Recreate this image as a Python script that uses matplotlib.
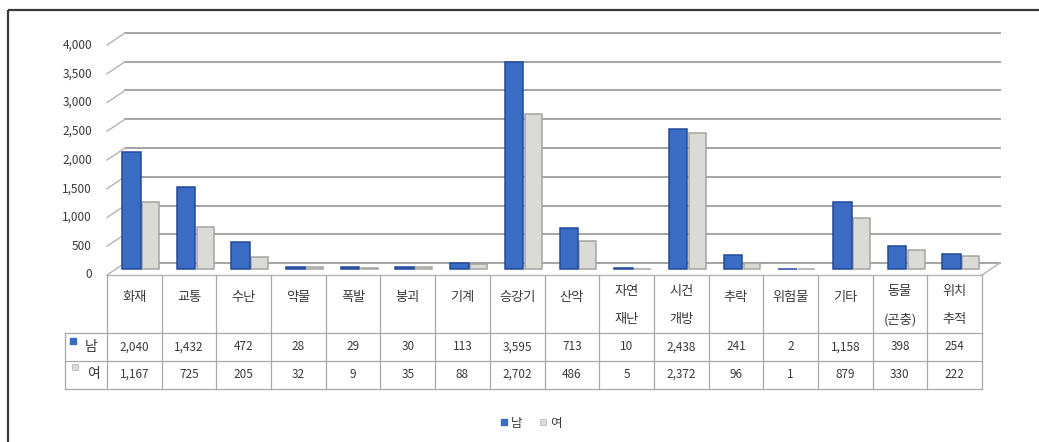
import matplotlib
matplotlib.use('Agg')
import matplotlib.pyplot as plt
import matplotlib.transforms as mtransforms
import numpy as np

plt.rcParams['font.family'] = ['Noto Sans CJK KR', 'DejaVu Sans']

# ---------------- data ----------------
categories = ['화재', '교통', '수난', '약물', '폭발', '붕괴', '기계', '승강기', '산악',
              '자연\n재난', '시건\n개방', '추락', '위험물', '기타', '동물\n(곤충)', '위치\n추적']
male = [2040, 1432, 472, 28, 29, 30, 113, 3595, 713, 10, 2438, 241, 2, 1158, 398, 254]
female = [1167, 725, 205, 32, 9, 35, 88, 2702, 486, 5, 2372, 96, 1, 879, 330, 222]
series_names = ['남', '여']
yticks = [0, 500, 1000, 1500, 2000, 2500, 3000, 3500, 4000]

# ---------------- style ----------------
BLUE = '#3A6CC4'
BLUE_EDGE = '#24499A'
GRAY = '#DADAD6'
GRAY_EDGE = '#A4A4A0'
GRID = '#9C9C9C'
TXT = '#3A3A3A'

W, H = 1039, 442
fig = plt.figure(figsize=(W / 100, H / 100), dpi=100)
fig.patch.set_facecolor('white')


def fax(x0, y0, x1, y1):
    """axes from a pixel box given with top-left origin"""
    return fig.add_axes([x0 / W, 1 - y1 / H, (x1 - x0) / W, (y1 - y0) / H])


# background / decoration axes
bg = fax(0, 0, W, H)
bg.set_xlim(0, W)
bg.set_ylim(H, 0)
bg.axis('off')
bg.plot([8, W], [10, 10], color='#3a3a3a', lw=1.6, solid_capstyle='butt')
bg.plot([8, 8], [10, H], color='#3a3a3a', lw=1.6, solid_capstyle='butt')

# ---------------- bar axes ----------------
ax = fax(116, 39, 991, 269)
ax.set_xlim(-0.5, len(categories) - 0.5)
ax.set_ylim(0, 4000)
ax.axis('off')

back = ax.transData + mtransforms.ScaledTranslation(9 / 100, 6 / 100, fig.dpi_scale_trans)
front = ax.transData + mtransforms.ScaledTranslation(-9 / 100, -6 / 100, fig.dpi_scale_trans)
lab = ax.transData + mtransforms.ScaledTranslation(-24 / 100, -6 / 100, fig.dpi_scale_trans)

xmin, xmax = -0.5, len(categories) - 0.5
for v in yticks:
    ax.plot([xmin, xmax], [v, v], transform=back, color=GRID, lw=1.3, clip_on=False, zorder=1)
    p0 = front.transform((xmin, v))
    p1 = back.transform((xmin, v))
    ax.plot([p0[0], p1[0]], [p0[1], p1[1]], transform=None, color='#B4B4B4', lw=1.0,
            clip_on=False, zorder=1)
    ax.text(xmin, v, f'{v:,}', transform=lab, ha='right', va='center',
            fontsize=8.5, color=TXT)

# floor: front edge and right diagonal
ax.plot([xmin, xmax], [0, 0], transform=front, color='#B4B4B4', lw=1.0, clip_on=False, zorder=1)
p0 = front.transform((xmax, 0))
p1 = back.transform((xmax, 0))
ax.plot([p0[0], p1[0]], [p0[1], p1[1]], transform=None, color='#B4B4B4', lw=1.0,
        clip_on=False, zorder=1)

x = np.arange(len(categories))
ax.bar(x - 0.22, male, width=0.34, color=BLUE, edgecolor=BLUE_EDGE, lw=1.1, zorder=3,
       clip_on=False)
ax.bar(x + 0.13, female, width=0.31, color=GRAY, edgecolor=GRAY_EDGE, lw=1.1, zorder=2,
       clip_on=False)

# ---------------- data table ----------------
tax = fax(107, 275, 982, 389)
tax.set_xlim(-0.5, len(categories) - 0.5)
tax.set_ylim(114, 0)
tax.axis('off')
TL = '#A8A8A8'
px = 875 / 16
key_left = -0.5 - (107 - 65) / px
for i in range(len(categories) + 1):
    tax.plot([i - 0.5, i - 0.5], [0, 114], color=TL, lw=0.9, clip_on=False)
for yy in (58, 86, 114):
    tax.plot([key_left, xmax], [yy, yy], color=TL, lw=0.9, clip_on=False)
tax.plot([key_left, key_left], [58, 114], color=TL, lw=0.9, clip_on=False)

for i, cat in enumerate(categories):
    parts = cat.split('\n')
    ys = [22] if len(parts) == 1 else [17, 45]
    for part, yy in zip(parts, ys):
        tax.text(i, yy, part, ha='center', va='center', fontsize=9.5, color=TXT)
    tax.text(i, 72, f'{male[i]:,}', ha='center', va='center', fontsize=8.5, color=TXT)
    tax.text(i, 99, f'{female[i]:,}', ha='center', va='center', fontsize=8.5, color=TXT)

tax.scatter([-0.5 - (107 - 73) / px], [66], marker='s', s=14, color=BLUE, clip_on=False)
tax.text(-0.5 - (107 - 91) / px, 72, series_names[0], ha='center', va='center',
         fontsize=10, color=TXT)
tax.scatter([-0.5 - (107 - 75) / px], [92], marker='s', s=14, color=GRAY,
            edgecolor=GRAY_EDGE, lw=0.4, clip_on=False)
tax.text(-0.5 - (107 - 93) / px, 99, series_names[1], ha='center', va='center',
         fontsize=10, color=TXT)

# ---------------- legend ----------------
bg.scatter([504], [422], marker='s', s=22, color=BLUE)
bg.text(517, 423, series_names[0], ha='center', va='center', fontsize=9, color=TXT)
bg.scatter([543], [422], marker='s', s=22, color=GRAY, edgecolor=GRAY_EDGE, lw=0.4)
bg.text(556, 423, series_names[1], ha='center', va='center', fontsize=9, color=TXT)

fig.savefig('out.png', dpi=100)
